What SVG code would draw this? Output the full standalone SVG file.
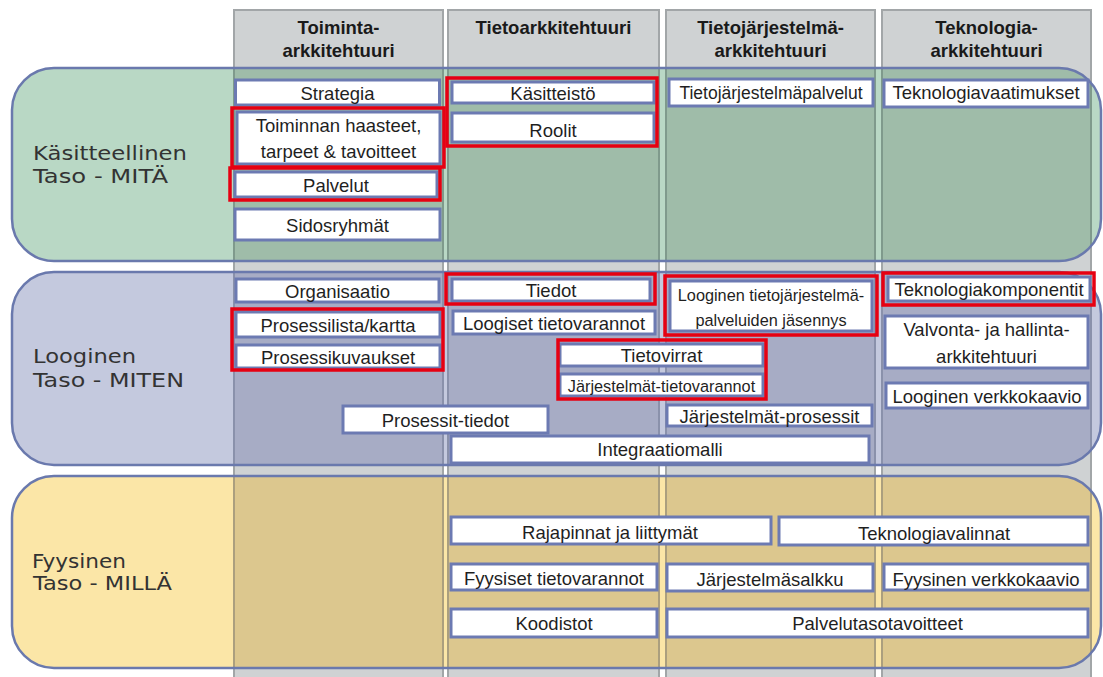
<svg xmlns="http://www.w3.org/2000/svg" width="1103" height="677" viewBox="0 0 1103 677">
<defs>
<style>
.col{fill:#cfd2d3;stroke:#a2a6a8;stroke-width:2}
.cg{fill:#9fbca9;stroke:#7f9a8c;stroke-width:2}
.cb{fill:#a7acc5;stroke:#8a91ab;stroke-width:2}
.cy{fill:#dcc78e;stroke:#ab9f7e;stroke-width:2}
.bandline{fill:none;stroke:#6a79ad;stroke-width:2.5}
.n{fill:#ffffff;stroke:#6c7ab2;stroke-width:3}
.r{fill:none;stroke:#e60012;stroke-width:3.5}
.t{font-family:"Liberation Sans",Arial,sans-serif;font-size:18.5px;fill:#1f1f1f;text-anchor:middle}
.ts{font-size:17.5px}
.tx{font-size:16.3px}
.h{font-family:"Liberation Sans",Arial,sans-serif;font-size:18.5px;font-weight:bold;fill:#1a1a1a;text-anchor:middle}
.lbl{font-family:"DejaVu Sans",Verdana,sans-serif;font-size:20px;fill:#333333}
</style>
<clipPath id="clip1"><rect x="12" y="68" width="1089" height="193" rx="42"/></clipPath>
<clipPath id="clip2"><rect x="12" y="272" width="1089" height="193" rx="42"/></clipPath>
<clipPath id="clip3"><rect x="12" y="476" width="1089" height="192" rx="42"/></clipPath>
</defs>
<rect width="1103" height="677" fill="#ffffff"/>

<g id="columns">
<rect class="col" x="234" y="10" width="209" height="680"/>
<rect class="col" x="448" y="10" width="211" height="680"/>
<rect class="col" x="666" y="10" width="209" height="680"/>
<rect class="col" x="882" y="10" width="209" height="680"/>
<text class="h" x="338.5" y="34">Toiminta-</text>
<text class="h" x="338.5" y="57">arkkitehtuuri</text>
<text class="h" x="553.5" y="34">Tietoarkkitehtuuri</text>
<text class="h" x="770.5" y="34">Tietojärjestelmä-</text>
<text class="h" x="770.5" y="57">arkkitehtuuri</text>
<text class="h" x="986.5" y="34">Teknologia-</text>
<text class="h" x="986.5" y="57">arkkitehtuuri</text>
</g>

<g id="band-kasitteellinen">
<rect x="12" y="68" width="1089" height="193" rx="42" fill="#b9d8c5"/>
<g clip-path="url(#clip1)">
<rect class="cg" x="234" y="60" width="209" height="210"/>
<rect class="cg" x="448" y="60" width="211" height="210"/>
<rect class="cg" x="666" y="60" width="209" height="210"/>
<rect class="cg" x="882" y="60" width="209" height="210"/>
</g>
<rect class="bandline" x="12" y="68" width="1089" height="193" rx="42"/>
<text class="lbl" x="33" y="160" textLength="154" lengthAdjust="spacingAndGlyphs">Käsitteellinen</text>
<text class="lbl" x="33" y="183" textLength="135" lengthAdjust="spacingAndGlyphs">Taso - MITÄ</text>
</g>

<g id="band-looginen">
<rect x="12" y="272" width="1089" height="193" rx="42" fill="#c4c9de"/>
<g clip-path="url(#clip2)">
<rect class="cb" x="234" y="264" width="209" height="210"/>
<rect class="cb" x="448" y="264" width="211" height="210"/>
<rect class="cb" x="666" y="264" width="209" height="210"/>
<rect class="cb" x="882" y="264" width="209" height="210"/>
</g>
<rect class="bandline" x="12" y="272" width="1089" height="193" rx="42"/>
<text class="lbl" x="33" y="363" textLength="103" lengthAdjust="spacingAndGlyphs">Looginen</text>
<text class="lbl" x="33" y="387" textLength="151" lengthAdjust="spacingAndGlyphs">Taso - MITEN</text>
</g>

<g id="band-fyysinen">
<rect x="12" y="476" width="1089" height="192" rx="42" fill="#fbe6a7"/>
<g clip-path="url(#clip3)">
<rect class="cy" x="234" y="468" width="209" height="210"/>
<rect class="cy" x="448" y="468" width="211" height="210"/>
<rect class="cy" x="666" y="468" width="209" height="210"/>
<rect class="cy" x="882" y="468" width="209" height="210"/>
</g>
<rect class="bandline" x="12" y="476" width="1089" height="192" rx="42"/>
<text class="lbl" x="32" y="568" textLength="94" lengthAdjust="spacingAndGlyphs">Fyysinen</text>
<text class="lbl" x="33" y="590" textLength="139" lengthAdjust="spacingAndGlyphs">Taso - MILLÄ</text>
</g>

<g id="connectors"></g>

<g id="n-strategia"><rect class="n" x="235.5" y="80" width="204" height="25"/><text class="t" x="337.5" y="100">Strategia</text></g>
<g id="n-toiminnan"><rect class="n" x="237" y="112" width="203" height="52"/><text class="t" x="338.5" y="132">Toiminnan haasteet,</text><text class="t" x="338.5" y="158">tarpeet &amp; tavoitteet</text><rect class="r" x="232" y="108" width="212" height="59"/></g>
<g id="n-palvelut"><rect class="n" x="235" y="172" width="202" height="25"/><text class="t" x="336" y="192">Palvelut</text><rect class="r" x="230" y="168" width="210" height="32"/></g>
<g id="n-sidosryhmat"><rect class="n" x="235" y="209" width="205" height="31"/><text class="t" x="337.5" y="232">Sidosryhmät</text></g>
<g id="n-kasitteisto"><rect class="n" x="452" y="82" width="202" height="21"/><text class="t" x="553" y="100">Käsitteistö</text></g>
<g id="n-roolit"><rect class="n" x="452" y="113" width="202" height="29"/><text class="t" x="553" y="137">Roolit</text></g>
<g id="hl-kasitteisto-roolit"><rect class="r" x="447" y="78" width="210" height="68"/></g>
<g id="n-tjpalvelut"><rect class="n" x="669" y="79" width="204" height="27"/><text class="t ts" x="771" y="99">Tietojärjestelmäpalvelut</text></g>
<g id="n-teknovaatimukset"><rect class="n" x="884" y="80" width="204" height="27"/><text class="t" x="986" y="99">Teknologiavaatimukset</text></g>

<g id="n-organisaatio"><rect class="n" x="236" y="279" width="203" height="23"/><text class="t" x="337.5" y="298">Organisaatio</text></g>
<g id="n-prosessilista"><rect class="n" x="236" y="312" width="204" height="25"/><text class="t" x="338" y="332">Prosessilista/kartta</text></g>
<g id="n-prosessikuvaukset"><rect class="n" x="236" y="345" width="204" height="23"/><text class="t" x="338" y="364">Prosessikuvaukset</text></g>
<g id="hl-prosessit"><rect class="r" x="232" y="309" width="211" height="61"/></g>
<g id="n-tiedot"><rect class="n" x="452" y="279" width="198" height="22"/><text class="t" x="551" y="297">Tiedot</text><rect class="r" x="446" y="274" width="209" height="30"/></g>
<g id="n-loogiset"><rect class="n" x="453" y="311" width="202" height="23"/><text class="t" x="554" y="330">Loogiset tietovarannot</text></g>
<g id="n-looginen-tj"><rect class="n" x="670" y="281" width="202" height="50"/><text class="t tx" x="771" y="301">Looginen tietojärjestelmä-</text><text class="t tx" x="771" y="326">palveluiden jäsennys</text><rect class="r" x="665" y="276" width="212" height="59"/></g>
<g id="n-teknokomponentit"><rect class="n" x="888" y="277" width="202" height="24"/><text class="t" x="989" y="296">Teknologiakomponentit</text><rect class="r" x="883" y="273" width="211" height="32"/></g>
<g id="n-valvonta"><rect class="n" x="885" y="316" width="203" height="52"/><text class="t" x="986.5" y="336">Valvonta- ja hallinta-</text><text class="t" x="986.5" y="363">arkkitehtuuri</text></g>
<g id="n-loog-verkko"><rect class="n" x="886" y="383" width="202" height="25"/><text class="t" x="987" y="403">Looginen verkkokaavio</text></g>
<g id="n-tietovirrat"><rect class="n" x="560" y="344" width="203" height="22"/><text class="t" x="661.5" y="362">Tietovirrat</text></g>
<g id="n-jarj-tietovarannot"><rect class="n" x="560" y="374" width="203" height="22"/><text class="t tx" x="661.5" y="392">Järjestelmät-tietovarannot</text></g>
<g id="hl-tietovirrat"><rect class="r" x="558" y="340" width="208" height="59"/></g>
<g id="n-prosessit-tiedot"><rect class="n" x="343" y="406" width="205" height="27"/><text class="t" x="445.5" y="427">Prosessit-tiedot</text></g>
<g id="n-jarj-prosessit"><rect class="n" x="667" y="405" width="205" height="21"/><text class="t" x="769.5" y="423">Järjestelmät-prosessit</text></g>
<g id="n-integraatiomalli"><rect class="n" x="451" y="436" width="418" height="27"/><text class="t" x="660" y="456">Integraatiomalli</text></g>

<g id="n-rajapinnat"><rect class="n" x="451" y="517" width="320" height="27"/><text class="t" x="610" y="539">Rajapinnat ja liittymät</text></g>
<g id="n-teknovalinnat"><rect class="n" x="779" y="517" width="309" height="28"/><text class="t" x="934" y="540">Teknologiavalinnat</text></g>
<g id="n-fyysiset"><rect class="n" x="451" y="564" width="206" height="26"/><text class="t" x="554" y="585">Fyysiset tietovarannot</text></g>
<g id="n-salkku"><rect class="n" x="667" y="564" width="206" height="27"/><text class="t" x="770" y="586">Järjestelmäsalkku</text></g>
<g id="n-fyys-verkko"><rect class="n" x="884" y="564" width="204" height="26"/><text class="t" x="986" y="586">Fyysinen verkkokaavio</text></g>
<g id="n-koodistot"><rect class="n" x="451" y="609" width="206" height="28"/><text class="t" x="554" y="630">Koodistot</text></g>
<g id="n-palvelutaso"><rect class="n" x="667" y="609" width="421" height="28"/><text class="t" x="877.5" y="630">Palvelutasotavoitteet</text></g>
</svg>
